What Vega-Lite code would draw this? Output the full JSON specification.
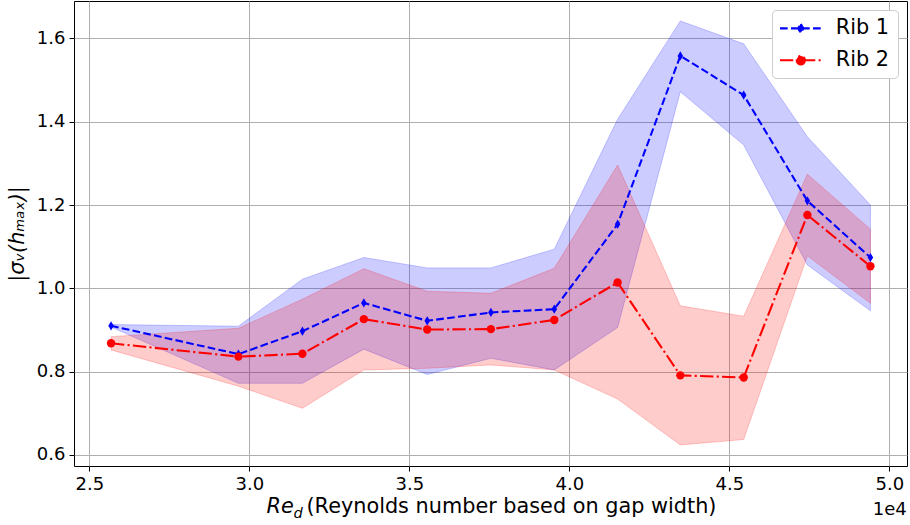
{
  "$schema": "https://vega.github.io/schema/vega-lite/v6.json",
  "width": 833,
  "height": 465,
  "autosize": "none",
  "padding": {"left": 74, "top": 1, "right": 3, "bottom": 59},
  "background": "white",
  "config": {
    "font": "DejaVu Sans",
    "view": {"stroke": "black", "strokeWidth": 1},
    "axis": {
      "labelFont": "DejaVu Sans",
      "labelFontSize": 18,
      "labelColor": "black",
      "tickColor": "black",
      "tickSize": 5,
      "tickWidth": 1,
      "gridColor": "#b0b0b0",
      "gridWidth": 1,
      "gridOpacity": 1,
      "domain": false,
      "labelPadding": 4,
      "titleFont": "DejaVu Sans",
      "titleFontSize": 20.8,
      "titleColor": "black",
      "titleFontWeight": "normal"
    }
  },
  "data": {
    "values": [
      {"rib": "Rib 1", "re": 25680, "mean": 0.910, "lo": 0.907, "hi": 0.913},
      {"rib": "Rib 1", "re": 29660, "mean": 0.842, "lo": 0.772, "hi": 0.909},
      {"rib": "Rib 1", "re": 31660, "mean": 0.897, "lo": 0.772, "hi": 1.022},
      {"rib": "Rib 1", "re": 33580, "mean": 0.965, "lo": 0.854, "hi": 1.074},
      {"rib": "Rib 1", "re": 35560, "mean": 0.922, "lo": 0.793, "hi": 1.049},
      {"rib": "Rib 1", "re": 37550, "mean": 0.942, "lo": 0.832, "hi": 1.049},
      {"rib": "Rib 1", "re": 39530, "mean": 0.950, "lo": 0.804, "hi": 1.094},
      {"rib": "Rib 1", "re": 41510, "mean": 1.154, "lo": 0.906, "hi": 1.406},
      {"rib": "Rib 1", "re": 43470, "mean": 1.558, "lo": 1.472, "hi": 1.642},
      {"rib": "Rib 1", "re": 45450, "mean": 1.464, "lo": 1.344, "hi": 1.587},
      {"rib": "Rib 1", "re": 47440, "mean": 1.210, "lo": 1.056, "hi": 1.364},
      {"rib": "Rib 1", "re": 49410, "mean": 1.074, "lo": 0.946, "hi": 1.200},
      {"rib": "Rib 2", "re": 25680, "mean": 0.868, "lo": 0.852, "hi": 0.884},
      {"rib": "Rib 2", "re": 29660, "mean": 0.836, "lo": 0.765, "hi": 0.904},
      {"rib": "Rib 2", "re": 31660, "mean": 0.843, "lo": 0.712, "hi": 0.974},
      {"rib": "Rib 2", "re": 33580, "mean": 0.926, "lo": 0.804, "hi": 1.047},
      {"rib": "Rib 2", "re": 35560, "mean": 0.901, "lo": 0.808, "hi": 0.993},
      {"rib": "Rib 2", "re": 37550, "mean": 0.902, "lo": 0.816, "hi": 0.988},
      {"rib": "Rib 2", "re": 39530, "mean": 0.924, "lo": 0.804, "hi": 1.048},
      {"rib": "Rib 2", "re": 41510, "mean": 1.014, "lo": 0.734, "hi": 1.296},
      {"rib": "Rib 2", "re": 43470, "mean": 0.791, "lo": 0.624, "hi": 0.958},
      {"rib": "Rib 2", "re": 45450, "mean": 0.786, "lo": 0.637, "hi": 0.933},
      {"rib": "Rib 2", "re": 47440, "mean": 1.176, "lo": 1.078, "hi": 1.274},
      {"rib": "Rib 2", "re": 49410, "mean": 1.053, "lo": 0.964, "hi": 1.142}
    ]
  },
  "layer": [
    {
      "mark": {"type": "area", "fillOpacity": 0.2, "strokeOpacity": 0.2, "strokeWidth": 1},
      "encoding": {
        "x": {
          "field": "re",
          "type": "quantitative",
          "scale": {"domain": [24522, 50553], "nice": false, "zero": false},
          "axis": {
            "orient": "bottom",
            "values": [25000, 30000, 35000, 40000, 45000, 50000],
            "labelExpr": "datum.value == 50000 ? ['5.0', '1e4'] : format(datum.value / 10000, '.1f')",
            "labelLineHeight": 25,
            "labelFlush": false,
            "labelOverlap": false,
            "grid": true,
            "title": "(Reynolds number based on gap width)",
            "titleX": 232,
            "titleY": 46,
            "titleAlign": "left",
            "titleBaseline": "alphabetic"
          }
        },
        "y": {
          "field": "lo",
          "type": "quantitative",
          "scale": {"domain": [0.5734, 1.6898], "nice": false, "zero": false},
          "axis": {
            "values": [0.6, 0.8, 1.0, 1.2, 1.4, 1.6],
            "format": ".1f",
            "grid": true,
            "title": "|σᵥ(hₘₐₓ)|",
            "titleFontStyle": "italic",
            "titlePadding": 9
          }
        },
        "y2": {"field": "hi"},
        "color": {
          "field": "rib",
          "type": "nominal",
          "scale": {"domain": ["Rib 1", "Rib 2"], "range": ["blue", "red"]},
          "legend": {
            "orient": "top-right",
            "offset": 9,
            "title": null,
            "labelFont": "DejaVu Sans",
            "labelFontSize": 20.8,
            "labelColor": "black",
            "fillColor": "white",
            "strokeColor": "#cccccc",
            "cornerRadius": 4,
            "padding": 8,
            "labelOffset": 35,
            "rowPadding": 9.8,
            "symbolSize": 289,
            "encode": {
              "symbols": {
                "update": {
                  "shape": {"signal": "datum.value === 'Rib 1' ? 'M-2.45,0L2.45,0M0,-0.52L0.32,0L0,0.52L-0.32,0Z' : 'M-2.45,0L2.45,0M0.49,0A0.49,0.49 0 1 1 -0.49,0A0.49,0.49 0 1 1 0.49,0Z'"},
                  "size": {"value": 289},
                  "x": {"value": 20.8},
                  "strokeDash": {"signal": "datum.value === 'Rib 1' ? [7.7, 3.3] : [13.3, 3.3, 2.1, 3.3]"},
                  "stroke": {"signal": "datum.value === 'Rib 1' ? 'blue' : 'red'"},
                  "fill": {"signal": "datum.value === 'Rib 1' ? 'blue' : 'red'"},
                  "strokeWidth": {"value": 2.08},
                  "opacity": {"value": 1},
                  "fillOpacity": {"value": 1},
                  "strokeOpacity": {"value": 1}
                }
              }
            }
          }
        },
        "stroke": {
          "field": "rib",
          "type": "nominal",
          "scale": {"domain": ["Rib 1", "Rib 2"], "range": ["blue", "red"]},
          "legend": null
        }
      }
    },
    {
      "mark": {"type": "line", "strokeWidth": 2.08},
      "encoding": {
        "x": {
          "field": "re",
          "type": "quantitative",
          "axis": {
            "orient": "bottom",
            "labels": false,
            "ticks": false,
            "grid": false,
            "domain": false,
            "title": "Re",
            "titleFontStyle": "italic",
            "titleX": 192,
            "titleY": 46,
            "titleAlign": "left",
            "titleBaseline": "alphabetic"
          }
        },
        "y": {"field": "mean", "type": "quantitative"},
        "color": {"field": "rib", "type": "nominal"},
        "strokeDash": {
          "condition": {"test": "datum.rib === 'Rib 1'", "value": [7.7, 3.3]},
          "value": [13.3, 3.3, 2.1, 3.3]
        }
      }
    },
    {
      "mark": {"type": "point", "filled": true, "opacity": 1, "size": 70},
      "encoding": {
        "x": {
          "field": "re",
          "type": "quantitative",
          "axis": {
            "orient": "bottom",
            "labels": false,
            "ticks": false,
            "grid": false,
            "domain": false,
            "title": "d",
            "titleFontStyle": "italic",
            "titleFontSize": 14.6,
            "titleX": 219,
            "titleY": 51,
            "titleAlign": "left",
            "titleBaseline": "alphabetic"
          }
        },
        "y": {"field": "mean", "type": "quantitative"},
        "color": {"field": "rib", "type": "nominal"},
        "shape": {
          "condition": {"test": "datum.rib === 'Rib 1'", "value": "M0,-1.1L0.66,0L0,1.1L-0.66,0Z"},
          "value": "circle"
        }
      }
    }
  ],
  "resolve": {"axis": {"x": "independent"}}
}
